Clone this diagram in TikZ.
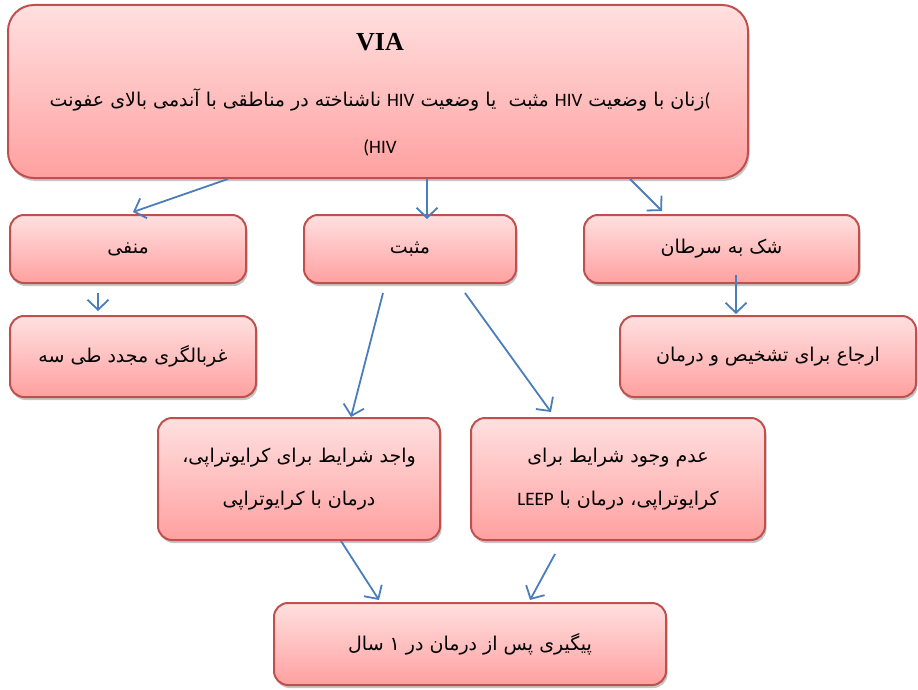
\documentclass[tikz,border=0pt]{standalone}
\usepackage{fontspec}
\TeXXeTstate=1
\newfontfamily\arabicfont[Script=Arabic]{DejaVu Sans}
\newfontfamily\latinf{Carlito}
\newfontfamily\serifb{Liberation Serif}
\usetikzlibrary{arrows.meta,shadows,calc}
\definecolor{boxborder}{RGB}{192,80,77}
\definecolor{pinktop}{RGB}{255,224,224}
\definecolor{pinkbot}{RGB}{255,160,160}
\definecolor{arrowblue}{RGB}{74,126,187}
\tikzset{
  box/.style={draw=boxborder, line width=2pt, rounded corners=14pt,
    top color=pinktop, bottom color=pinkbot,
    drop shadow={shadow xshift=1.5pt, shadow yshift=-3pt, fill=black!45},
    inner sep=0pt, align=center,
    font=\arabicfont\fontsize{19}{43}\selectfont},
  txt/.style={inner sep=0pt, font=\arabicfont\fontsize{19}{24}\selectfont},
  arr/.style={draw=arrowblue, line width=1.8pt,
    -{Straight Barb[length=10pt,width=21pt,line width=1.8pt]}}
}
\begin{document}
\begin{tikzpicture}[x=1pt,y=-1pt]
\useasboundingbox (0,0) rectangle (918,690);
% boxes
\node[box, rounded corners=26pt, minimum width=740pt, minimum height=173pt] (top) at (378,91.5) {};
\node[txt, font=\serifb\bfseries\fontsize{26}{26}\selectfont] (t1) at (380,42) {VIA};
\node[txt] (t2) at (380,100) {\beginR\beginL{\latinf(}\endL زنان با وضعیت \beginL{\latinf HIV}\endL{} مثبت\ \ یا وضعیت \beginL{\latinf HIV}\endL{} ناشناخته در مناطقی با آندمی بالای عفونت\endR};
\node[txt] (t3) at (380,148) {\beginR\beginL{\latinf(HIV}\endL\endR};

\node[box, minimum width=236pt, minimum height=68pt] (neg) at (128,249) {\beginR منفی\endR};
\node[box, minimum width=212pt, minimum height=68pt] (pos) at (410,249) {\beginR مثبت\endR};
\node[box, minimum width=275pt, minimum height=68pt] (sus) at (721.5,249) {\beginR شک به سرطان\endR};
\node[box, minimum width=246pt, minimum height=81pt] (scr) at (133,356.5) {\beginR غربالگری مجدد طی سه\endR};
\node[box, minimum width=296pt, minimum height=81pt] (ref) at (768,356.5) {\beginR ارجاع برای تشخیص و درمان\endR};
\node[box, minimum width=282pt, minimum height=122pt] (cry) at (299,479) {\beginR واجد شرایط برای کرایوتراپی،\endR\\\beginR درمان با کرایوتراپی\endR};
\node[box, minimum width=294pt, minimum height=122pt] (lee) at (618,479) {\beginR عدم وجود شرایط برای\endR\\\beginR کرایوتراپی، درمان با \beginL{\latinf LEEP}\endL\endR};
\node[box, minimum width=392pt, minimum height=82pt] (fol) at (470,644) {\beginR پیگیری پس از درمان در ۱ سال\endR};
% arrows
\draw[arr] ($(top.south)+(-150,0)$) -- ($(neg.north)+(5,-2)$);
\draw[arr] ($(top.south)+(49,0)$) -- ($(pos.north)+(17,5)$);
\draw[arr] ($(top.south)+(252,0)$) -- ($(sus.north)+(-59.5,-3)$);
\draw[arr] ($(neg.south)+(-30,9)$) -- ($(scr.north)+(-35,-4)$);
\draw[arr] ($(pos.south)+(-27,9)$) -- ($(cry.north)+(52,0)$);
\draw[arr] ($(pos.south)+(55,9)$) -- ($(lee.north)+(-67,-5)$);
\draw[arr] ($(sus.south)+(14.5,-9)$) -- ($(ref.north)+(-32,-1)$);
\draw[arr] ($(cry.south)+(42,0)$) -- ($(fol.north)+(-91,-2)$);
\draw[arr] ($(lee.south)+(-63,13)$) -- ($(fol.north)+(60,-2)$);
\end{tikzpicture}
\end{document}
